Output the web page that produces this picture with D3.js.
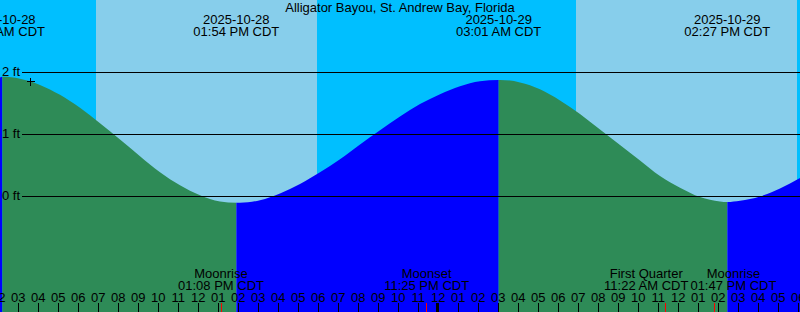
<!DOCTYPE html>
<html><head><meta charset="utf-8">
<script src="https://cdn.jsdelivr.net/npm/d3@7"></script>
<style>html,body{margin:0;padding:0;background:#fff;overflow:hidden}</style>
</head><body><svg id="c" width="800" height="312"></svg>
<script>
// ---------- data ----------
const title = "Alligator Bayou, St. Andrew Bay, Florida";
const viewStart = "2025-10-28T02:05";
const viewEnd = "2025-10-29T18:05";
const sampleStart = "2025-10-28T02:05"; // hourly samples from here
const heights = [1.92, 1.90, 1.80, 1.64, 1.43, 1.18, 0.92, 0.65, 0.39, 0.18,
                 0.02, -0.08, -0.10, -0.06, 0.05, 0.20, 0.39, 0.60, 0.84, 1.07,
                 1.29, 1.49, 1.65, 1.78, 1.86, 1.88, 1.84, 1.73, 1.55, 1.33,
                 1.08, 0.83, 0.58, 0.33, 0.14, -0.01, -0.08, -0.07, 0.00, 0.13, 0.30];
const tideTimes = ["2025-10-28T02:12", "2025-10-28T13:54", "2025-10-29T03:01", "2025-10-29T14:27"];
const tideLevels = [1.93, -0.10, 1.88, -0.09];
const tideKinds = ["high", "low", "high", "low"];
const sunriseTimes = ["2025-10-28T06:53", "2025-10-29T06:53"];
const sunsetTimes = ["2025-10-28T17:56", "2025-10-29T17:56"];
const moonNames = ["Moonrise", "Moonset", "First Quarter", "Moonrise"];
const moonTimes = ["2025-10-28T13:08", "2025-10-28T23:25", "2025-10-29T11:22", "2025-10-29T13:47"];
const levelTicks = [0, 1, 2];
const levelLabels = ["0 ft", "1 ft", "2 ft"];
const markTime = "2025-10-28T03:35";
const markLevel = 1.86;

// ---------- setup ----------
const W = 800, H = 312;
const FONT = "Liberation Sans", FS = 13;
const colNight = "#00BFFF", colDay = "#87CEEB", colFall = "#2E8B57", colRise = "#0000FF";
const parse = d3.timeParse("%Y-%m-%dT%H:%M");
const t0 = parse(viewStart), t1 = parse(viewEnd);
const x = d3.scaleTime().domain([t0, t1]).range([0, W]);
const y = d3.scaleLinear().domain([0, 2]).range([196.5, 72.5]);

const svg = d3.select("#c").style("font-family", FONT).style("font-size", FS + "px");
const defs = svg.append("defs");

// background: night then day bands
svg.append("rect").attr("x", 0).attr("y", 0).attr("width", W).attr("height", H).attr("fill", colNight);
sunriseTimes.forEach((s, i) => {
  const a = x(parse(s)), b = x(parse(sunsetTimes[i]));
  svg.append("rect").attr("x", a).attr("y", 0).attr("width", b - a).attr("height", H).attr("fill", colDay);
});

// tide curve data (hourly samples + extremes)
const s0 = parse(sampleStart);
let pts = heights.map((v, i) => ({t: d3.timeHour.offset(s0, i), v}));
tideTimes.forEach((s, i) => pts.push({t: parse(s), v: tideLevels[i]}));
pts.sort((a, b) => a.t - b.t);

const area = d3.area().x(d => x(d.t)).y0(H).y1(d => y(d.v)).curve(d3.curveMonotoneX);

const bounds = [t0, ...tideTimes.map(parse), t1];
for (let i = 0; i < bounds.length - 1; i++) {
  const a = x(bounds[i]), b = x(bounds[i + 1]);
  const nextKind = i < tideKinds.length ? tideKinds[i] : (tideKinds[tideKinds.length - 1] === "low" ? "high" : "low");
  const id = "seg" + i;
  defs.append("clipPath").attr("id", id).append("rect")
    .attr("x", a).attr("y", 0).attr("width", b - a).attr("height", H);
  svg.append("path").datum(pts).attr("d", area)
    .attr("fill", nextKind === "high" ? colRise : colFall)
    .attr("clip-path", `url(#${id})`);
}

// level lines and labels
levelTicks.forEach((lv, i) => {
  svg.append("line").attr("x1", 22).attr("x2", W).attr("y1", y(lv)).attr("y2", y(lv))
    .attr("stroke", "#000").attr("stroke-width", 1).attr("shape-rendering", "crispEdges");
  svg.append("text").attr("x", 2).attr("y", y(lv) + 3.5).attr("fill", "#000").text(levelLabels[i]);
});

// current-time mark
const mx = Math.round(x(parse(markTime))) + 0.5, my = Math.round(y(markLevel)) + 0.5;
svg.append("path").attr("d", `M${mx - 4},${my}H${mx + 4}M${mx},${my - 4}V${my + 4}`)
  .attr("stroke", "#000").attr("stroke-width", 1).attr("fill", "none").attr("shape-rendering", "crispEdges");

// title
svg.append("text").attr("x", W / 2).attr("y", 12).attr("text-anchor", "middle").attr("fill", "#000").text(title);

// tide extreme labels
const fDate = d3.timeFormat("%Y-%m-%d"), fTime = d3.timeFormat("%I:%M %p CDT");
tideTimes.forEach(s => {
  const t = parse(s), cx = x(t);
  svg.append("text").attr("x", cx).attr("y", 24).attr("text-anchor", "middle").attr("fill", "#000").text(fDate(t));
  svg.append("text").attr("x", cx).attr("y", 36).attr("text-anchor", "middle").attr("fill", "#000").text(fTime(t));
});

// hour ticks and labels
const hours = d3.timeHours(d3.timeHour.floor(t0), d3.timeHour.offset(t1, 1));
const fHour = d3.timeFormat("%I");
hours.forEach(h => {
  const hx = x(h);
  const px = Math.floor(hx);
  if (h.getHours() === 0) {
    svg.append("rect").attr("x", px - 2).attr("y", 303).attr("width", 3).attr("height", 9).attr("fill", "#000");
  } else {
    svg.append("rect").attr("x", px).attr("y", 303).attr("width", 1).attr("height", 9).attr("fill", "#000");
  }
  svg.append("text").attr("x", hx).attr("y", 302).attr("text-anchor", "middle").attr("fill", "#000").text(fHour(h));
});

// moon events: ticks, then labels pushed apart when they would overlap
const moonLabels = moonTimes.map((s, i) => {
  const t = parse(s), mxp = x(t);
  svg.append("rect").attr("x", Math.floor(mxp)).attr("y", 303).attr("width", 1).attr("height", 9).attr("fill", "#FF0000");
  const g = svg.append("g");
  const a = g.append("text").attr("y", 278).attr("text-anchor", "middle").attr("fill", "#000").text(moonNames[i]);
  const b = g.append("text").attr("y", 290).attr("text-anchor", "middle").attr("fill", "#000").text(fTime(t));
  const w = Math.max(a.node().getComputedTextLength(), b.node().getComputedTextLength());
  return {g, cx: mxp, w};
});
for (let i = 0; i < moonLabels.length - 1; i++) {
  const A = moonLabels[i], B = moonLabels[i + 1];
  const overlap = (A.cx + A.w / 2 + 2) - (B.cx - B.w / 2);
  if (overlap > 0) { A.cx -= overlap / 2; B.cx += overlap / 2; }
}
moonLabels.forEach(L => L.g.selectAll("text").attr("x", L.cx));
</script>
</body></html>
